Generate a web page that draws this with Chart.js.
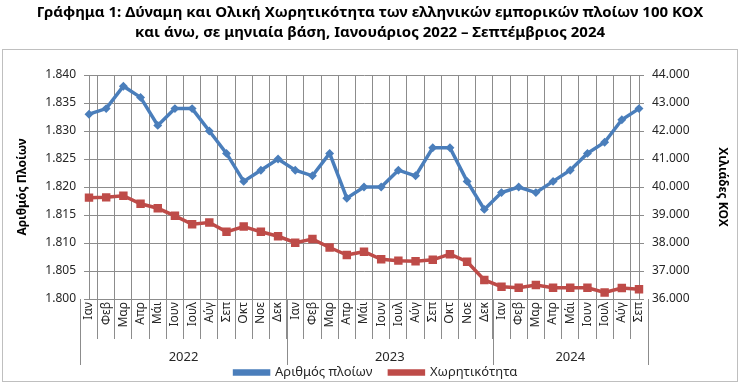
<!DOCTYPE html>
<html>
<head>
<meta charset="utf-8">
<script src="https://cdn.jsdelivr.net/npm/chart.js@4/dist/chart.umd.min.js"></script>
<style>
  html, body { margin: 0; padding: 0; background: #fff; }
  #wrap { width: 740px; height: 384px; }
</style>
</head>
<body>
<div id="wrap"><canvas id="fleetChart" width="740" height="384"></canvas></div>
<script>
const months = ['Ιαν', 'Φεβ', 'Μαρ', 'Απρ', 'Μάι', 'Ιουν', 'Ιουλ', 'Αύγ', 'Σεπ', 'Οκτ', 'Νοε', 'Δεκ',
                'Ιαν', 'Φεβ', 'Μαρ', 'Απρ', 'Μάι', 'Ιουν', 'Ιουλ', 'Αύγ', 'Σεπ', 'Οκτ', 'Νοε', 'Δεκ',
                'Ιαν', 'Φεβ', 'Μαρ', 'Απρ', 'Μάι', 'Ιουν', 'Ιουλ', 'Αύγ', 'Σεπ'];
const years = ['2022', '2023', '2024'];
const yearMonths = [12, 12, 9];

// number of ships
const ships = [1833, 1834, 1838, 1836, 1831, 1834, 1834, 1830, 1826, 1821, 1823, 1825,
               1823, 1822, 1826, 1818, 1820, 1820, 1823, 1822, 1827, 1827, 1821, 1816,
               1819, 1820, 1819, 1821, 1823, 1826, 1828, 1832, 1834];
// capacity, thousands GT
const capacity = [39620, 39630, 39690, 39400, 39240, 38970, 38670, 38730, 38400, 38590, 38400, 38240,
                  38010, 38140, 37840, 37570, 37690, 37420, 37370, 37350, 37400, 37600, 37330, 36680,
                  36440, 36400, 36500, 36400, 36400, 36400, 36230, 36390, 36350];

const fontName = "'Noto Sans', 'DejaVu Sans', sans-serif";
const gridColor = '#8c8c8c';
const textColor = '#262626';

function fmtThousands(v) {
  return Math.round(v).toString().replace(/\B(?=(\d{3})+(?!\d))/g, '.');
}

// frame round the chart + year row under the month labels
const framePlugin = {
  id: 'frame',
  afterLayout(chart) {
    // legend sits a bit right of centre in the original
    chart.legend.left += 6;
    chart.legend.right += 6;
  },
  beforeDraw(chart) {
    const ctx = chart.ctx;
    ctx.save();
    ctx.fillStyle = '#fff';
    ctx.fillRect(0, 0, chart.width, chart.height);
    ctx.strokeStyle = '#bfbfbf';
    ctx.lineWidth = 1;
    ctx.strokeRect(2.5, 49.5, chart.width - 5, chart.height - 52);
    ctx.restore();
  },
  afterDraw(chart) {
    const ctx = chart.ctx;
    const x = chart.scales.x;
    const half = (x.getPixelForValue(1) - x.getPixelForValue(0)) / 2;
    const top = chart.chartArea.bottom;
    ctx.save();
    ctx.strokeStyle = gridColor;
    ctx.lineWidth = 1;
    ctx.fillStyle = textColor;
    ctx.font = '13px ' + fontName;
    ctx.textAlign = 'center';
    ctx.textBaseline = 'middle';
    let start = 0;
    years.forEach((yr, i) => {
      const end = start + yearMonths[i] - 1;
      const left = Math.round(x.getPixelForValue(start) - half) + 0.5;
      ctx.beginPath();
      ctx.moveTo(left, top);
      ctx.lineTo(left, top + 66);
      ctx.stroke();
      const mid = (x.getPixelForValue(start) + x.getPixelForValue(end)) / 2;
      ctx.fillText(yr, mid, top + 58);
      start = end + 1;
    });
    const right = Math.round(x.getPixelForValue(start - 1) + half) + 0.5;
    ctx.beginPath();
    ctx.moveTo(right, top);
    ctx.lineTo(right, top + 66);
    ctx.stroke();
    ctx.restore();
  }
};

new Chart(document.getElementById('fleetChart'), {
  type: 'line',
  data: {
    labels: months,
    datasets: [{
      label: 'Αριθμός πλοίων',
      data: ships,
      yAxisID: 'y',
      borderColor: '#4a7ebb',
      backgroundColor: '#4a7ebb',
      borderWidth: 3.5,
      pointStyle: 'rectRot',
      pointRadius: 2,
      tension: 0
    }, {
      label: 'Χωρητικότητα',
      data: capacity,
      yAxisID: 'y1',
      borderColor: '#be4b48',
      backgroundColor: '#be4b48',
      borderWidth: 3.5,
      pointStyle: 'rect',
      pointRadius: 3.5,
      tension: 0
    }]
  },
  options: {
    responsive: false,
    animation: false,
    layout: { padding: { left: 6, right: 6, top: 0, bottom: -5 } },
    plugins: {
      title: {
        display: true,
        text: ['Γράφημα 1: Δύναμη και Ολική Χωρητικότητα των ελληνικών εμπορικών πλοίων 100 ΚΟΧ',
               'και άνω, σε μηνιαία βάση, Ιανουάριος 2022 – Σεπτέμβριος 2024'],
        color: '#000',
        font: { family: fontName, size: 15, weight: 'bold', lineHeight: 1.3 },
        padding: { top: 3, bottom: 33 }
      },
      legend: {
        position: 'bottom',
        labels: {
          color: textColor,
          font: { family: fontName, size: 13 },
          boxWidth: 34,
          boxHeight: 3,
          padding: 17
        }
      },
      tooltip: { enabled: false }
    },
    scales: {
      x: {
        grid: { color: gridColor, offset: true, tickLength: 40, drawOnChartArea: true },
        border: { color: gridColor },
        ticks: {
          color: textColor,
          font: { family: fontName, size: 12 },
          maxRotation: 90,
          minRotation: 90,
          autoSkip: false,
          padding: -37
        },
        afterFit(scale) { scale.height = 50; }
      },
      y: {
        position: 'left',
        min: 1800,
        max: 1840,
        grid: { color: gridColor, tickLength: 5 },
        border: { color: gridColor },
        ticks: {
          stepSize: 5,
          padding: 8,
          color: textColor,
          font: { family: fontName, size: 12 },
          callback: v => fmtThousands(v)
        },
        title: {
          display: true,
          text: 'Αριθμός Πλοίων',
          color: '#000',
          font: { family: fontName, size: 12, weight: 'bold' },
          padding: { top: 9, bottom: 0 }
        },
        afterFit(scale) { scale.width = 83; }
      },
      y1: {
        position: 'right',
        min: 36000,
        max: 44000,
        grid: { drawOnChartArea: false, color: gridColor, tickLength: 5 },
        border: { color: gridColor },
        ticks: {
          stepSize: 500,
          padding: 8,
          color: textColor,
          font: { family: fontName, size: 12 },
          callback: v => fmtThousands(v)
        },
        title: {
          display: true,
          text: 'Χιλιάδες ΚΟΧ',
          color: '#000',
          font: { family: fontName, size: 12, weight: 'bold' }
        },
        afterFit(scale) { scale.width = 95; }
      }
    }
  },
  plugins: [framePlugin]
});
</script>
</body>
</html>
